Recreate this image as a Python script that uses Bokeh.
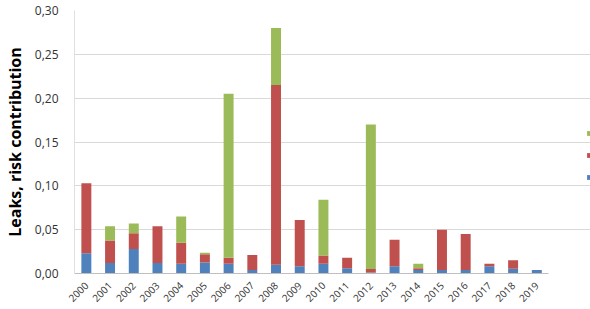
from bokeh.plotting import figure
from bokeh.models import Range1d, Legend, LegendItem, FixedTicker, CustomJSTickFormatter
from bokeh.embed import file_html
from bokeh.resources import INLINE
from math import pi

years = list(range(2000, 2020))
blue = [0.023, 0.012, 0.028, 0.012, 0.011, 0.0126, 0.011, 0.004, 0.010, 0.0084,
        0.011, 0.006, 0.001, 0.0084, 0.004, 0.004, 0.004, 0.0084, 0.0054, 0.004]
red = [0.080, 0.0256, 0.018, 0.042, 0.024, 0.0094, 0.007, 0.017, 0.205, 0.0526,
       0.0095, 0.012, 0.004, 0.030, 0.002, 0.046, 0.041, 0.0026, 0.0096, 0.0]
green = [0.0, 0.0164, 0.011, 0.0, 0.030, 0.0016, 0.187, 0.0, 0.065, 0.0,
         0.0635, 0.0, 0.165, 0.0, 0.005, 0.0, 0.0, 0.0, 0.0, 0.0]
colors = ["#4F81BD", "#C0504D", "#9BBB59"]
y_ticks = [0.0, 0.05, 0.10, 0.15, 0.20, 0.25, 0.30]

data = dict(year=years, s1=blue, s2=red, s3=green)

x0 = years[0] - 0.5
x1 = years[-1] + 0.5
# frame extends to the window edge so the legend swatches can sit at the right edge
x_end = x0 + (x1 - x0) * 518 / 476

p = figure(x_range=Range1d(x0, x_end), y_range=(0, 0.30),
           width=590, height=309, output_backend="svg", toolbar_location=None,
           min_border_left=72, min_border_right=0, min_border_top=10, min_border_bottom=36)

r = p.vbar_stack(["s1", "s2", "s3"], x="year", width=0.42, fill_color=colors,
                 line_color=None, source=data)

p.outline_line_color = None
p.background_fill_color = "white"
p.ygrid.grid_line_color = "#d9d9d9"
p.ygrid.bounds = (x0, x1)
p.xgrid.grid_line_color = None

p.yaxis.ticker = FixedTicker(ticks=y_ticks)
p.yaxis.formatter = CustomJSTickFormatter(code="return tick.toFixed(2).replace('.', ',');")
p.yaxis.axis_line_color = "#e0e0e0"
p.yaxis.major_tick_line_color = None
p.yaxis.minor_tick_line_color = None
p.yaxis.major_label_text_font = "Open Sans"
p.yaxis.major_label_text_font_size = "12px"
p.yaxis.major_label_text_color = "#333333"
p.yaxis.major_label_standoff = 10
p.yaxis.axis_label = "Leaks, risk contribution"
p.yaxis.axis_label_text_font = "Open Sans"
p.yaxis.axis_label_text_font_style = "bold"
p.yaxis.axis_label_text_font_size = "16px"
p.yaxis.axis_label_text_color = "#000000"
p.yaxis.axis_label_standoff = 6

p.xaxis.ticker = FixedTicker(ticks=years)
p.xaxis.bounds = (x0, x1)
p.xaxis.axis_line_color = "#bfbfbf"
p.xaxis.major_tick_line_color = None
p.xaxis.minor_tick_line_color = None
p.xaxis.major_label_orientation = pi / 4
p.xaxis.major_label_text_font = "Open Sans"
p.xaxis.major_label_text_font_size = "10px"
p.xaxis.major_label_text_color = "#333333"
p.xaxis.major_label_standoff = 4

items = [LegendItem(label="", renderers=[r[i]]) for i in [2, 1, 0]]
legend = Legend(items=items, location=(512, 93), orientation="vertical",
                glyph_width=6, glyph_height=6, label_height=6, spacing=16,
                padding=0, margin=0, border_line_color=None, background_fill_alpha=0,
                label_text_font_size="6px", label_standoff=0, label_width=0)
p.add_layout(legend, "center")

open("out.html", "w").write(file_html(p, INLINE))
